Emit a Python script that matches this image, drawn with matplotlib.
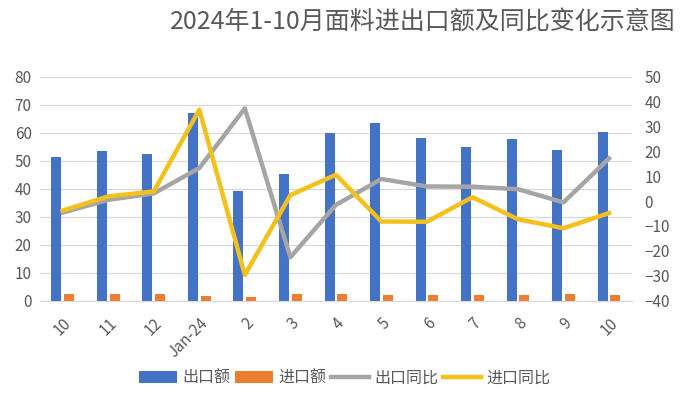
import numpy as np
import matplotlib.pyplot as plt

plt.rcParams['font.family'] = ['Noto Sans CJK SC', 'DejaVu Sans']

# month labels
months = ['10', '11', '12', 'Jan-24', '2', '3', '4', '5', '6', '7', '8', '9', '10']

# export / import amount (left axis)
export_amt = [51.5, 53.6, 52.5, 67.0, 39.3, 45.4, 59.8, 63.6, 58.3, 55.0, 57.9, 54.0, 60.4]
import_amt = [2.5, 2.5, 2.4, 1.8, 1.3, 2.5, 2.5, 2.1, 2.1, 2.0, 2.1, 2.2, 2.1]

# year-on-year change, % (right axis)
export_yoy = [-4.6, 0.5, 3.1, 13.3, 37.3, -22.6, -1.5, 8.9, 5.9, 5.8, 4.8, -0.5, 17.2]
import_yoy = [-3.8, 1.9, 3.9, 36.8, -29.7, 2.4, 10.6, -8.2, -8.3, 1.6, -7.3, -10.9, -4.8]

text_color = '#595959'
x = np.arange(len(months))

fig = plt.figure(figsize=(6.89, 3.96), dpi=100)
ax = fig.add_axes([0.058, 0.241, 0.859, 0.565])
ax2 = ax.twinx()

w = 0.22
ax.bar(x - 0.14, export_amt, width=w, color='#4472C4', label='出口额', zorder=2)
ax.bar(x + 0.14, import_amt, width=w, color='#ED7D31', label='进口额', zorder=2)
ax2.plot(x, export_yoy, color='#A5A5A5', lw=3.2, label='出口同比', zorder=3)
ax2.plot(x, import_yoy, color='#F4C01C', lw=3.2, label='进口同比', zorder=4)

ax.set_xlim(-0.5, len(months) - 0.5)
ax.set_ylim(0, 80)
ax.set_yticks(range(0, 81, 10))
ax2.set_ylim(-40, 50)
ax2.set_yticks(range(-40, 51, 10))

ax.yaxis.grid(True, color='#D9D9D9', lw=0.9, zorder=0)
ax.set_axisbelow(True)

for a in (ax, ax2):
    for s in a.spines.values():
        s.set_visible(False)
    a.tick_params(length=0, labelsize=11, labelcolor=text_color)
ax.spines['bottom'].set_visible(True)
ax.spines['bottom'].set_color('#D9D9D9')

ax.set_xticks(x)
ax.set_xticklabels(months, rotation=45, ha='right', rotation_mode='anchor')
ax.tick_params(axis='x', pad=10)
ax.tick_params(axis='y', pad=6)
ax2.tick_params(axis='y', pad=9)

fig.text(0.613, 0.944, '2024年1-10月面料进出口额及同比变化示意图', ha='center',
         va='center', fontsize=18, color=text_color, fontweight='light')

h1, l1 = ax.get_legend_handles_labels()
h2, l2 = ax2.get_legend_handles_labels()
fig.legend(h1 + h2, l1 + l2, loc='center', bbox_to_anchor=(0.5, 0.045), ncol=4,
           frameon=False, fontsize=11.5, labelcolor=text_color,
           handlelength=2.4, handletextpad=0.3, columnspacing=0.3)

fig.savefig('out.png', dpi=100)
